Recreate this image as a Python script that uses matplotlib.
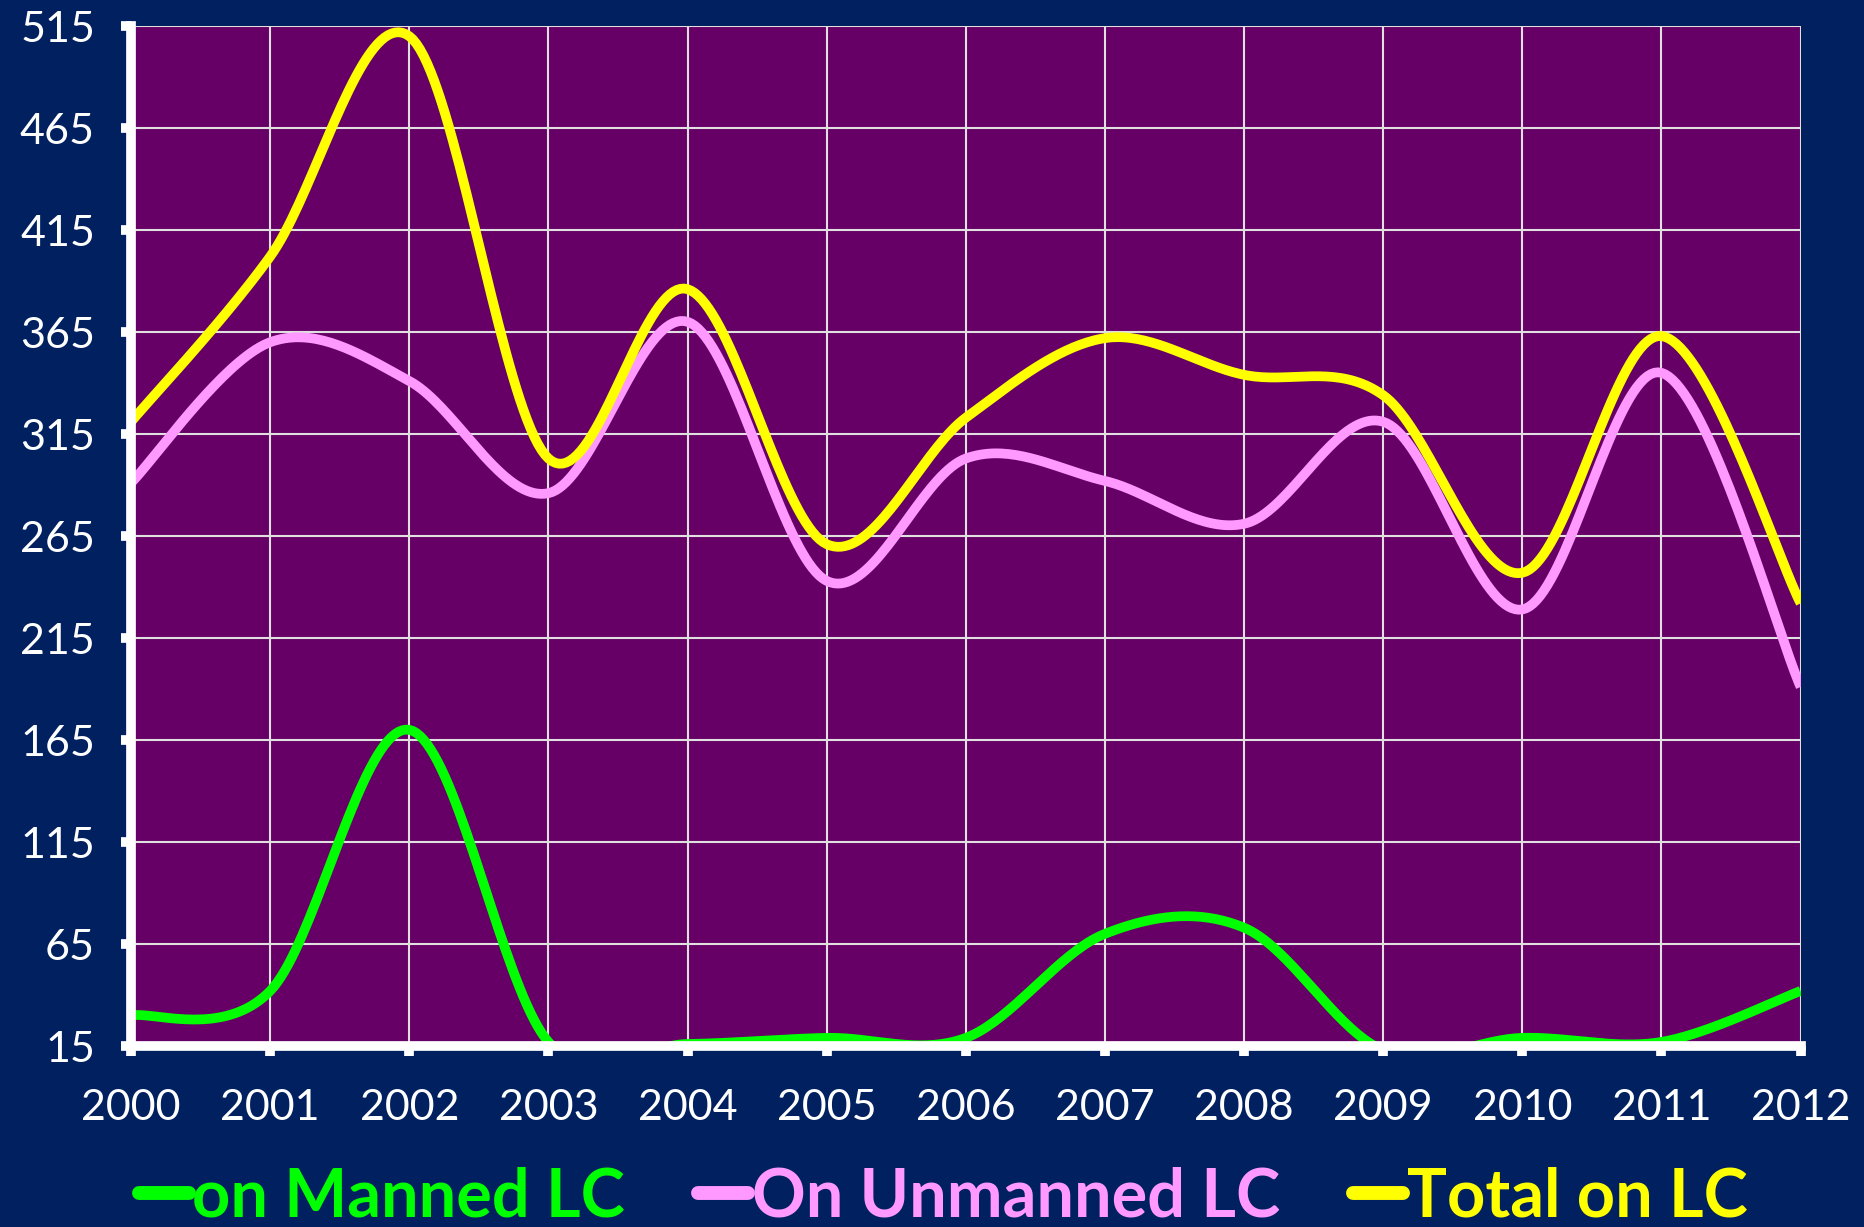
import numpy as np
import matplotlib
matplotlib.use("Agg")
import matplotlib.pyplot as plt

years = [2000, 2001, 2002, 2003, 2004, 2005, 2006, 2007, 2008, 2009, 2010, 2011, 2012]
manned = [30, 42, 170, 17, 16, 19, 19, 70, 73, 13, 19, 17, 42]
unmanned = [291, 360, 341, 286, 370, 243, 303, 292, 271, 321, 229, 345, 191]
total = [321, 402, 510, 303, 386, 261, 323, 362, 344, 334, 247, 363, 232]

labels = ["on Manned LC", "On Unmanned LC", "Total on LC"]
colors = ["#00FF00", "#FF99FF", "#FFFF00"]
yticks = list(range(15, 516, 50))

BG = "#002060"
PLOT_BG = "#660066"


def smooth(x, y, n=40):
    # excel-like smoothed line (bezier, catmull-rom style control points)
    x = np.asarray(x, float)
    y = np.asarray(y, float)
    px = np.concatenate([[x[0]], x, [x[-1]]])
    py = np.concatenate([[y[0]], y, [y[-1]]])
    xs, ys = [], []
    t = np.linspace(0, 1, n)
    for i in range(1, len(px) - 2):
        x0, x1, x2, x3 = px[i - 1], px[i], px[i + 1], px[i + 2]
        y0, y1, y2, y3 = py[i - 1], py[i], py[i + 1], py[i + 2]
        cx1, cy1 = x1 + (x2 - x0) / 6, y1 + (y2 - y0) / 6
        cx2, cy2 = x2 - (x3 - x1) / 6, y2 - (y3 - y1) / 6
        bx = (1 - t) ** 3 * x1 + 3 * (1 - t) ** 2 * t * cx1 + 3 * (1 - t) * t ** 2 * cx2 + t ** 3 * x2
        by = (1 - t) ** 3 * y1 + 3 * (1 - t) ** 2 * t * cy1 + 3 * (1 - t) * t ** 2 * cy2 + t ** 3 * y2
        xs.extend(bx)
        ys.extend(by)
    return xs, ys


plt.rcParams["font.family"] = ["Lato", "DejaVu Sans"]

fig = plt.figure(figsize=(18.64, 12.27), dpi=100, facecolor=BG)
ax = fig.add_axes([0.0703, 0.1475, 0.8957, 0.8313])
ax.set_facecolor(PLOT_BG)

for vals, lab, col in zip([manned, unmanned, total], labels, colors):
    sx, sy = smooth(years, vals)
    ax.plot(sx, sy, color=col, lw=7, label=lab, solid_capstyle="butt", zorder=3)

ax.set_xlim(2000, 2012)
ax.set_ylim(15, 515)
ax.set_xticks(years)
ax.set_yticks(yticks)
ax.grid(True, color="#E0E0E0", lw=1.5, zorder=1)
ax.set_axisbelow(True)

for s in ["top", "right"]:
    ax.spines[s].set_visible(False)
for s in ["left", "bottom"]:
    ax.spines[s].set_color("white")
    ax.spines[s].set_linewidth(7)
    ax.spines[s].set_zorder(5)

ax.tick_params(colors="white", width=7, length=7, labelsize=31, direction="out")
ax.tick_params(axis="y", pad=19)
ax.tick_params(axis="x", pad=24)

leg = fig.legend(loc="center", bbox_to_anchor=(0.506, 0.024), ncol=3, frameon=False,
                 handlelength=0.75, handletextpad=0.05, columnspacing=1.1,
                 prop={"weight": "bold", "size": 48})
for txt, col in zip(leg.get_texts(), colors):
    txt.set_color(col)
for h in leg.legend_handles:
    h.set_linewidth(10)
    h.set_solid_capstyle("round")

fig.savefig("out.png", dpi=100, facecolor=BG)
